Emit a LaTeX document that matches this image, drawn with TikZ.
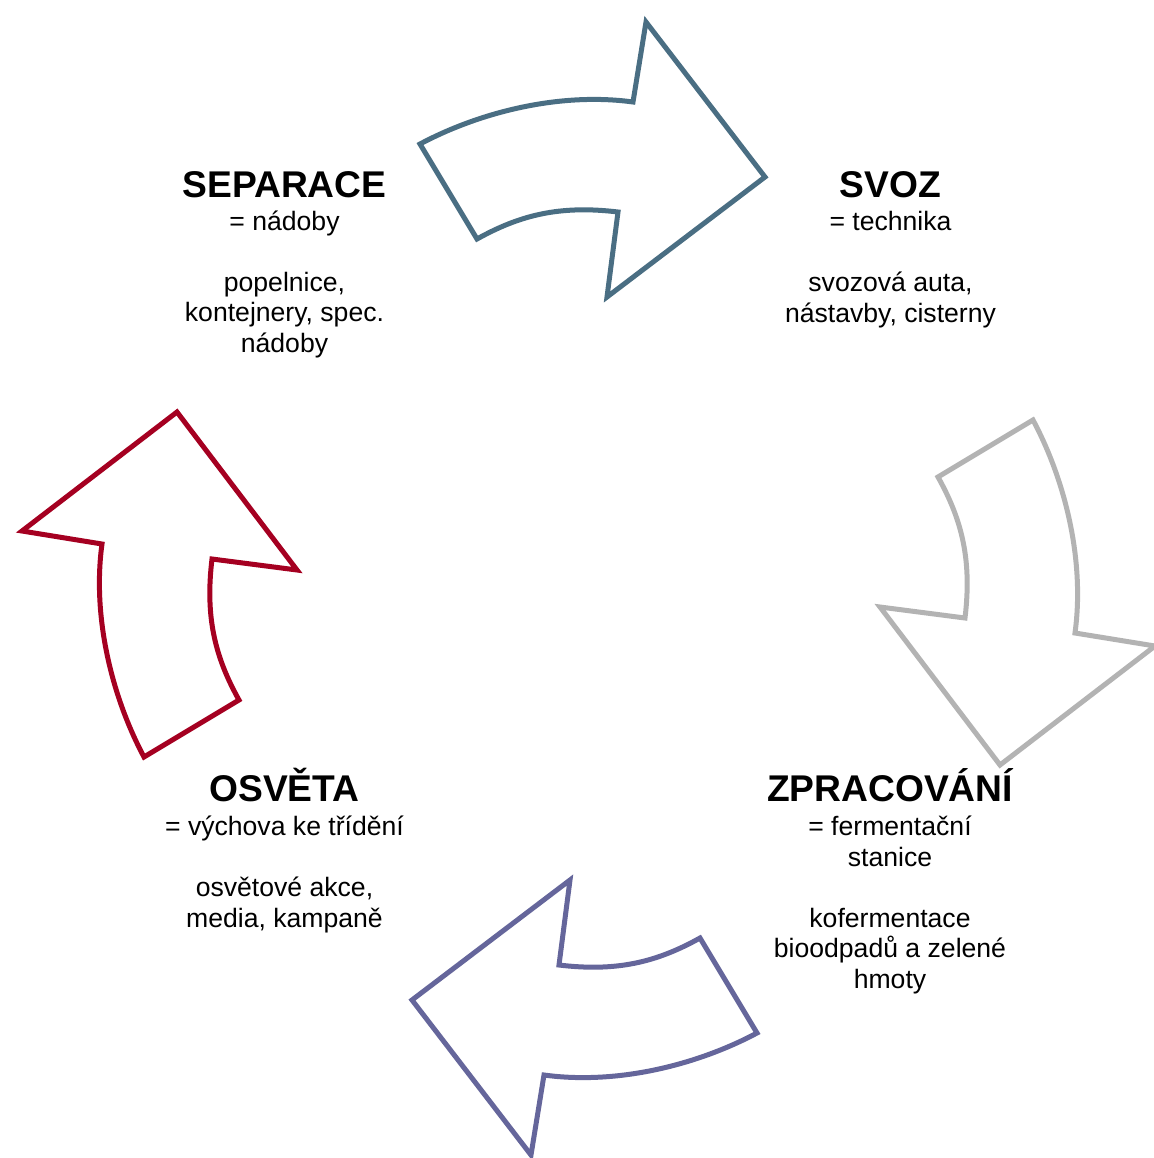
\documentclass[tikz,border=0pt]{standalone}
\usepackage{fontspec}
\setmainfont{Liberation Sans}
\definecolor{svozblue}{RGB}{74,110,131}
\definecolor{zpracgray}{RGB}{179,179,179}
\definecolor{osvetapurple}{RGB}{101,102,155}
\definecolor{separred}{RGB}{165,0,33}
\begin{document}
\begin{tikzpicture}[x=0.5pt,y=-0.5pt,
  cyclearrow/.style={line width=2.5pt, fill=white},
  heading/.style={font=\fontsize{18.6}{22}\selectfont\bfseries, anchor=base, inner sep=0pt},
  note/.style={font=\fontsize{13.3}{15.25}\selectfont, align=center, anchor=base, inner sep=0pt}]
  \useasboundingbox (0,0) rectangle (1153,1158);
  % separace -> svoz
  \draw[cyclearrow, draw=svozblue] (420,144) .. controls (480,112) and (560,92) .. (633,102)
    -- (646,22) -- (765,177) -- (607,297) -- (618,212)
    .. controls (560,205) and (520,215) .. (477,239) -- cycle;
  % svoz -> zpracovani
  \draw[cyclearrow, draw=zpracgray] (1033,420) .. controls (1065,480) and (1085,560) .. (1075,633)
    -- (1155,646) -- (1000,765) -- (880,607) -- (965,618)
    .. controls (972,560) and (962,520) .. (938,477) -- cycle;
  % zpracovani -> osveta
  \draw[cyclearrow, draw=osvetapurple] (757,1033) .. controls (697,1065) and (617,1085) .. (544,1075)
    -- (531,1155) -- (412,1000) -- (570,880) -- (559,965)
    .. controls (617,972) and (657,962) .. (700,938) -- cycle;
  % osveta -> separace
  \draw[cyclearrow, draw=separred] (144,757) .. controls (112,697) and (92,617) .. (102,544)
    -- (22,531) -- (177,412) -- (297,570) -- (212,559)
    .. controls (205,617) and (215,657) .. (239,700) -- cycle;

  % texts (base = last line)
  \node[heading] (separace) at (284.5,197) {SEPARACE};
  \node[note] (separaceText) at (284.5,352) {= nádoby\\[15.25pt]popelnice,\\kontejnery, spec.\\nádoby};
  \node[heading] (svoz) at (890.5,197) {SVOZ};
  \node[note] (svozText) at (890.5,322) {= technika\\[15.25pt]svozová auta,\\nástavby, cisterny};
  \node[heading] (zpracovani) at (890,801) {ZPRACOVÁNÍ};
  \node[note] (zpracovaniText) at (890,988) {= fermentační\\stanice\\[15.25pt]kofermentace\\bioodpadů a zelené\\hmoty};
  \node[heading] (osveta) at (284.5,801) {OSVĚTA};
  \node[note] (osvetaText) at (284.5,927) {= výchova ke třídění\\[15.25pt]osvětové akce,\\media, kampaně};
\end{tikzpicture}
\end{document}
